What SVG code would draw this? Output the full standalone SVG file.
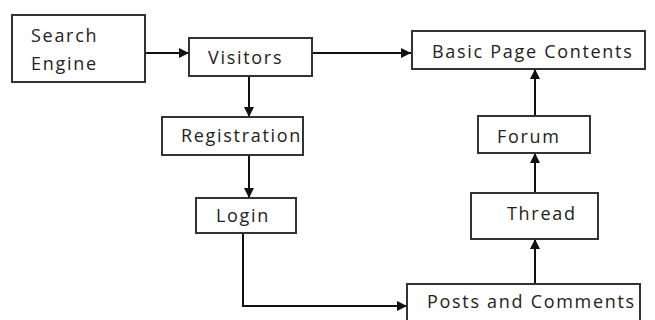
<svg xmlns="http://www.w3.org/2000/svg" width="655" height="320" viewBox="0 0 655 320">
<style>
.box{fill:#fff;stroke:#333;stroke-width:2}
.t{font-family:"Open Sans","Liberation Sans",sans-serif;font-size:18px;letter-spacing:1.7px;fill:#222}
.c{fill:none;stroke:#111;stroke-width:2}
</style>
<defs>
<marker id="ah" markerWidth="10" markerHeight="10" refX="10" refY="5" orient="auto" markerUnits="userSpaceOnUse">
<path d="M0,0 L10,5 L0,10 z" fill="#111"/>
</marker>
</defs>
<rect width="655" height="320" fill="#fff"/>
<g id="connectors">
<line class="c" x1="145" y1="53" x2="189" y2="53" marker-end="url(#ah)"/>
<line class="c" x1="312" y1="53" x2="411" y2="53" marker-end="url(#ah)"/>
<line class="c" x1="249" y1="76" x2="249" y2="117" marker-end="url(#ah)"/>
<line class="c" x1="249" y1="155" x2="249" y2="198" marker-end="url(#ah)"/>
<polyline class="c" points="243,233 243,306 407,306" marker-end="url(#ah)"/>
<line class="c" x1="535" y1="284" x2="535" y2="239" marker-end="url(#ah)"/>
<line class="c" x1="535" y1="193" x2="535" y2="153" marker-end="url(#ah)"/>
<line class="c" x1="535" y1="116" x2="535" y2="69" marker-end="url(#ah)"/>
</g>
<g id="search-engine">
<rect class="box" x="12" y="15" width="133" height="67"/>
<text class="t" x="31" y="42">Search</text>
<text class="t" x="31" y="70">Engine</text>
</g>
<g id="visitors">
<rect class="box" x="189" y="38" width="123" height="38"/>
<text class="t" x="208" y="64">Visitors</text>
</g>
<g id="basic-page-contents">
<rect class="box" x="412" y="31" width="233" height="38"/>
<text class="t" x="432" y="58">Basic Page Contents</text>
</g>
<g id="registration">
<rect class="box" x="162" y="117" width="141" height="38"/>
<text class="t" x="181" y="142">Registration</text>
</g>
<g id="forum">
<rect class="box" x="478" y="116" width="112" height="37"/>
<text class="t" x="497" y="143">Forum</text>
</g>
<g id="login">
<rect class="box" x="196" y="198" width="100" height="35"/>
<text class="t" x="216" y="222">Login</text>
</g>
<g id="thread">
<rect class="box" x="471" y="193" width="127" height="46"/>
<text class="t" x="507" y="220">Thread</text>
</g>
<g id="posts-and-comments">
<rect class="box" x="407" y="284" width="233" height="42"/>
<text class="t" x="427" y="308">Posts and Comments</text>
</g>
</svg>
